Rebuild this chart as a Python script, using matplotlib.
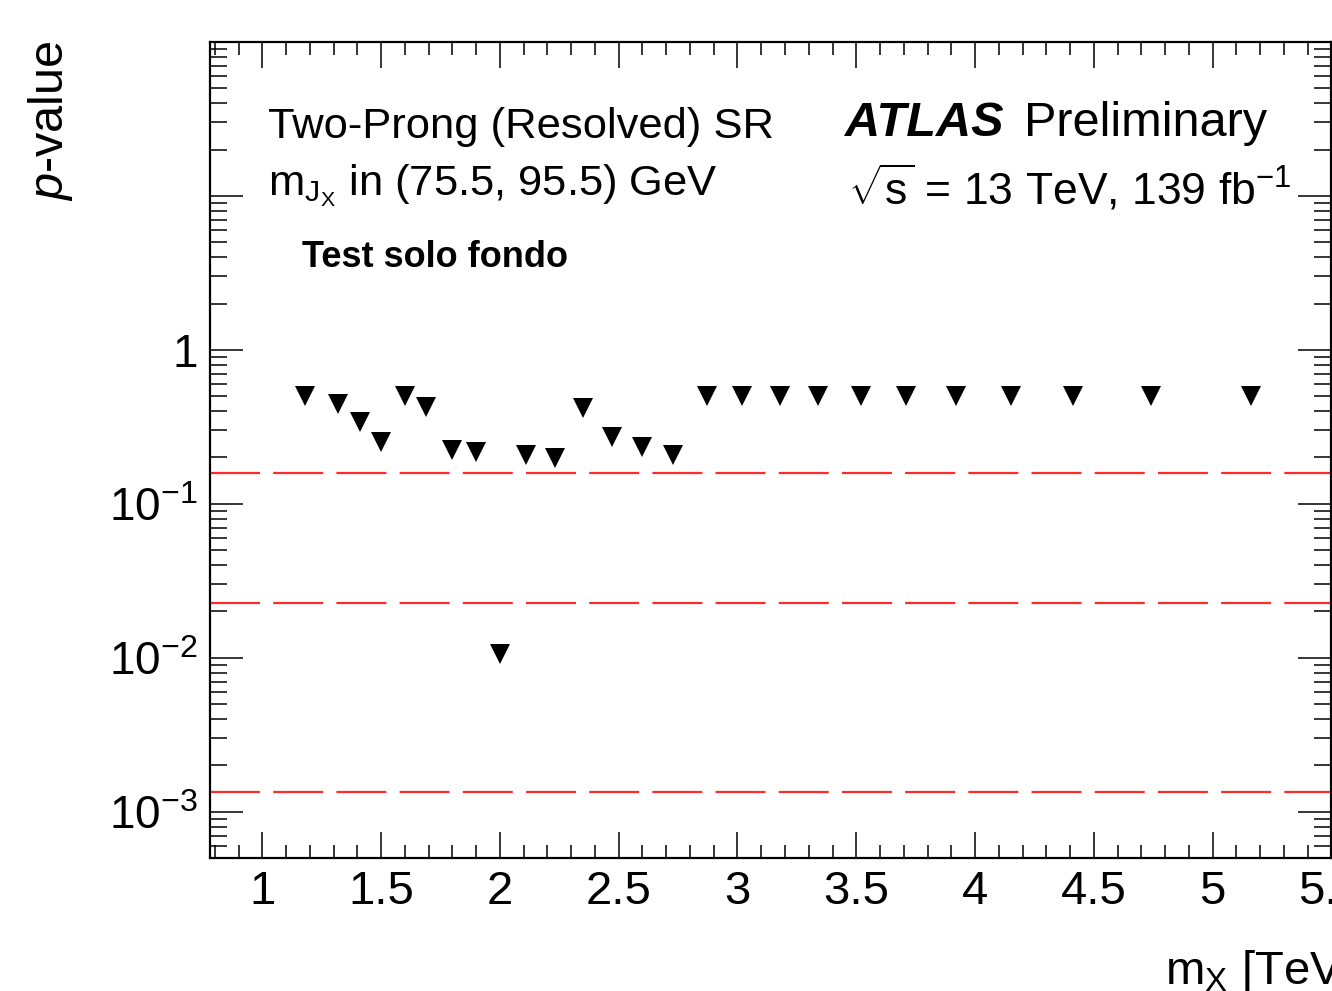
import numpy as np
import matplotlib
matplotlib.use("Agg")
import matplotlib.pyplot as plt
from matplotlib.ticker import FixedLocator, LogLocator, MultipleLocator, NullFormatter

plt.rcParams["font.family"] = "Liberation Sans"
plt.rcParams["mathtext.fontset"] = "custom"
plt.rcParams["mathtext.rm"] = "Liberation Sans"
plt.rcParams["mathtext.it"] = "Liberation Sans:italic"
plt.rcParams["mathtext.bf"] = "Liberation Sans:bold"
plt.rcParams["lines.scale_dashes"] = False

# ── data ──────────────────────────────────────────────────────────────────────
mass_tev = [1.18, 1.32, 1.41, 1.50, 1.60, 1.69, 1.80, 1.90, 2.00, 2.11,
            2.23, 2.35, 2.47, 2.60, 2.73, 2.87, 3.02, 3.18, 3.34, 3.52,
            3.71, 3.92, 4.15, 4.41, 4.74, 5.16]
p_value = [0.50, 0.445, 0.34, 0.253, 0.50, 0.425, 0.224, 0.218, 0.0106, 0.208,
           0.199, 0.42, 0.272, 0.234, 0.208, 0.50, 0.50, 0.50, 0.50, 0.50,
           0.50, 0.50, 0.50, 0.50, 0.50, 0.50]
sigma_levels = [0.1587, 0.02275, 0.00135]

y_major = [1e-3, 1e-2, 1e-1, 1, 10, 100]
y_labels = [r"$10^{-3}$", r"$10^{-2}$", r"$10^{-1}$", "1", "", ""]
x_major = [1, 1.5, 2, 2.5, 3, 3.5, 4, 4.5, 5, 5.5]
x_labels = ["1", "1.5", "2", "2.5", "3", "3.5", "4", "4.5", "5", "5.5"]

W, H = 1332, 991
fig = plt.figure(figsize=(W / 100, H / 100), dpi=100, facecolor="white")
ax = fig.add_axes([210 / W, 1 - 858 / H, (1331.5 - 210) / W, (858 - 42) / H])

for lvl in sigma_levels:
    ax.axhline(lvl, color="#ff2a2a", lw=1.6, dashes=(36, 9.5), zorder=1)

ax.plot(mass_tev, p_value, ls="none", marker="v", ms=14, color="black",
        markeredgewidth=0, zorder=3)

ax.set_yscale("log")
ax.set_ylim(5e-4, 100)
ax.set_xlim(0.78, 5.5)

ax.yaxis.set_major_locator(FixedLocator(y_major))
ax.set_yticklabels(y_labels)
ax.yaxis.set_minor_locator(LogLocator(base=10, subs=np.arange(2, 10), numticks=20))
ax.yaxis.set_minor_formatter(NullFormatter())
ax.set_xticks(x_major)
ax.set_xticklabels(x_labels)
ax.xaxis.set_minor_locator(MultipleLocator(0.1))

for s in ax.spines.values():
    s.set_linewidth(1.6)

ax.tick_params(axis="x", which="both", direction="in", top=True, bottom=True,
               labelsize=34, pad=9, width=1.1)
ax.tick_params(axis="x", which="major", length=19)
ax.tick_params(axis="x", which="minor", length=9.5)
ax.tick_params(axis="y", which="both", direction="in", left=True, right=True,
               labelsize=33, pad=9, width=1.1)
ax.tick_params(axis="y", which="major", length=24)
ax.tick_params(axis="y", which="minor", length=12)

# ── axis titles ──────────────────────────────────────────────────────────────
fig.text(63 / W, 1 - 40 / H, r"$p$-value", rotation=90, rotation_mode="anchor",
         ha="right", va="baseline", fontsize=35)
fig.text(1165 / W, 1 - 984 / H, r"m$_{\mathrm{X}}$ [TeV]", ha="left",
         va="baseline", fontsize=34)

# ── labels inside the frame ─────────────────────────────────────────────────
fig.text(268 / W, 1 - 138 / H, "Two-Prong (Resolved) SR", fontsize=31.3,
         va="baseline")
fig.text(268 / W, 1 - 195 / H, r"m$_{\mathrm{J_{X}}}$ in (75.5, 95.5) GeV",
         fontsize=31.3, va="baseline")
fig.text(302 / W, 1 - 267 / H, "Test solo fondo", fontsize=26,
         fontweight="bold", va="baseline")
fig.text(845 / W, 1 - 136 / H, "ATLAS", fontsize=35, fontweight="bold",
         fontstyle="italic", va="baseline")
fig.text(1024 / W, 1 - 136 / H, "Preliminary", fontsize=35, va="baseline")
fig.text(848 / W, 1 - 205 / H, r"$\sqrt{\mathrm{s}}$ = 13 TeV, 139 fb$^{-1}$",
         fontsize=32, va="baseline")

fig.savefig("out.png", dpi=100, facecolor="white")
